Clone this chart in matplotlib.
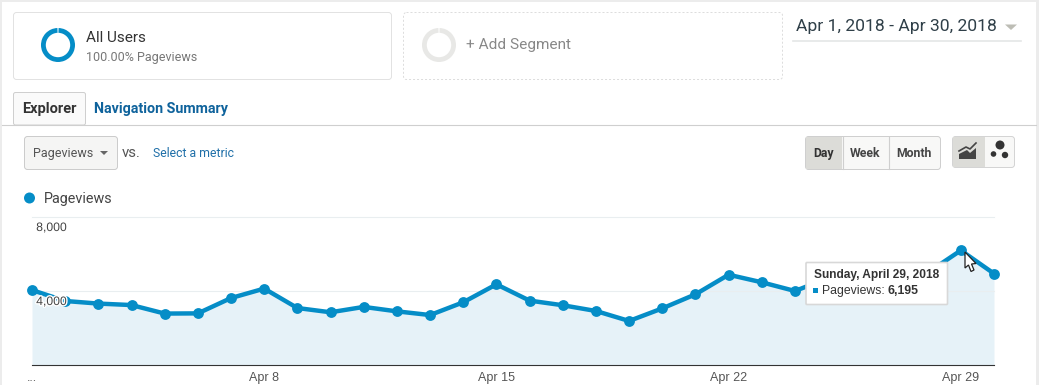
import matplotlib
matplotlib.use("Agg")
import matplotlib.pyplot as plt
from matplotlib.patches import FancyBboxPatch, Rectangle, Circle, Wedge, Polygon
from matplotlib.transforms import ScaledTranslation
import matplotlib.patheffects as pe

W, H = 1039, 385
BLUE = "#058dc7"

days = list(range(1, 31))
# pageviews per day, Apr 25-28 sit behind the tooltip so those are estimates
pageviews = [4050, 3460, 3320, 3240, 2780, 2790, 3620, 4130, 3080, 2850,
             3140, 2900, 2700, 3390, 4360, 3480, 3230, 2920, 2380, 3060,
             3820, 4880, 4470, 4000, 4700, 4900, 4700, 4990, 6195, 4940]
y_ticks = [0, 4000, 8000]
y_labels = ["", "4,000", "8,000"]
x_ticks = [1, 8, 15, 22, 29]
x_labels = ["...", "Apr 8", "Apr 15", "Apr 22", "Apr 29"]

fig = plt.figure(figsize=(W / 100, H / 100), dpi=100, facecolor="white")

# chart area, pixel box 32..994 x 217..365
ax = fig.add_axes([32 / W, 1 - 365 / H, (994 - 32) / W, (365 - 217) / H], zorder=2)
ax.patch.set_alpha(0)
ax.set_xlim(1, 30)
ax.set_ylim(0, 8000)
ax.fill_between(days, pageviews, color="#e6f2f8", lw=0, zorder=1)
ax.plot(days, pageviews, color=BLUE, lw=3.2, marker="o", ms=7.8, mew=0,
        clip_on=False, zorder=3)
for s in ["top", "left", "right"]:
    ax.spines[s].set_visible(False)
ax.spines["bottom"].set_color("#333333")
ax.spines["bottom"].set_linewidth(0.8)
ax.set_yticks(y_ticks)
ax.set_yticklabels(y_labels)
# gridlines by hand, the y axis itself sits above the line for its labels
for v in y_ticks[1:]:
    ax.axhline(v, color="#e9eef0", lw=0.8, zorder=2, clip_on=False)
ax.tick_params(axis="y", length=0, pad=-3)
ax.yaxis.set_zorder(6)
# y labels hang just under their gridlines, over the line
drop = ScaledTranslation(0, -5 / 100, fig.dpi_scale_trans)
for t in ax.get_yticklabels():
    t.set_ha("left")
    t.set_va("top")
    t.set_family("Liberation Sans")
    t.set_fontsize(8.8)
    t.set_color("#444444")
    t.set_transform(t.get_transform() + drop)
    t.set_path_effects([pe.withStroke(linewidth=2, foreground="white")])
ax.set_xticks(x_ticks)
ax.set_xticklabels(x_labels, family="Liberation Sans", fontsize=9, color="#555555")
ax.tick_params(axis="x", length=0, pad=5)

# page furniture drawn in pixel coordinates
ui = fig.add_axes([0, 0, 1, 1], zorder=3)
ui.set_xlim(0, W)
ui.set_ylim(H, 0)
ui.axis("off")
ui.patch.set_alpha(0)


def box(x0, y0, x1, y1, fc="white", ec="#dcdcdc", r=3, ls="-", lw=0.72, z=1):
    p = FancyBboxPatch((x0, y0), x1 - x0, y1 - y0, boxstyle="round,pad=0,rounding_size=%d" % r,
                       fc=fc, ec=ec, ls=ls, lw=lw, zorder=z)
    ui.add_patch(p)


def txt(x, y, s, size, color="#333333", weight="normal", ha="left", family="Roboto", z=5):
    ui.text(x, y, s, fontsize=size, color=color, weight=weight, ha=ha, va="center",
            family=family, zorder=z)


# outer strips
ui.add_patch(Rectangle((0, 0), W, 1.5, fc="#ececec", lw=0))
ui.add_patch(Rectangle((0, 0), 1.5, H, fc="#ececec", lw=0))
ui.add_patch(Rectangle((W - 3, 0), 3, H, fc="#ececec", lw=0))

# segment cards
box(13.5, 12.5, 391.5, 79.5, ec="#e2e2e2")
ui.add_patch(Wedge((58, 45), 17, -88, 268, width=4.8, fc=BLUE, lw=0))
txt(86.5, 38.5, "All Users", 11, "#333333")
txt(86.5, 57, "100.00% Pageviews", 9, "#777777")
box(403.5, 12.5, 782.5, 79.5, ec="#dddddd", ls=(0, (2, 2)))
ui.add_patch(Wedge((439, 45), 17, -88, 268, width=4.8, fc="#e8e8e6", lw=0))
txt(466.5, 44.5, "+ Add Segment", 11.1, "#888888")

# date range
txt(796.5, 27, "Apr 1, 2018 - Apr 30, 2018", 12.6, "#2f3f48")
ui.add_patch(Polygon([(1005, 24.5), (1017, 24.5), (1011, 30)], fc="#bdbdb5", lw=0))
ui.plot([793, 1021], [41, 41], color="#e4e6e6", lw=1.2)

# tabs
ui.plot([2, W - 3], [124.5, 124.5], color="#cfcfcf", lw=0.8)
box(13.5, 92.5, 85.5, 125, fc="#fafafa", ec="#cfcfcf", r=2, z=2)
txt(22.5, 108.5, "Explorer", 10.5, "#333333", "bold")
txt(94.5, 108.5, "Navigation Summary", 10.3, "#0f639c", "bold")

# metric selector
box(24.5, 136.5, 117.5, 169.5, fc="#f5f5f4", ec="#cccccc")
txt(32.5, 153, "Pageviews", 9, "#555555")
ui.add_patch(Polygon([(100, 151), (108, 151), (104, 155)], fc="#666666", lw=0))
txt(122, 153, "vs.", 10.8, "#555555")
txt(153, 153.5, "Select a metric", 8.8, "#1f6fa8")

# day / week / month
box(805.5, 136.5, 940.5, 169.5, fc="#f8f8f7", ec="#cfcfcf")
ui.add_patch(Rectangle((806, 137), 36, 32, fc="#dcdcd8", lw=0, zorder=2))
ui.plot([842.5, 842.5], [137, 169], color="#cfcfcf", lw=0.8, zorder=3)
ui.plot([888.5, 888.5], [137, 169], color="#cfcfcf", lw=0.8, zorder=3)
txt(824, 153.5, "Day", 8.8, "#333333", "bold", "center")
txt(865.5, 153.5, "Week", 8.8, "#444444", "bold", "center")
txt(914, 153.5, "Month", 8.8, "#444444", "bold", "center")

# chart type toggle
box(952.5, 136.5, 1014.5, 167.5, fc="#f8f8f7", ec="#d4d4d4")
ui.add_patch(Rectangle((953, 137), 31.5, 30, fc="#dcdcd8", lw=0, zorder=2))
ui.add_patch(Polygon([(959, 154), (967, 150), (970, 153), (976, 148), (976, 159), (959, 159)],
                     fc="#444444", lw=0, zorder=3))
ui.plot([959, 966, 970, 976], [151, 147, 149, 143], color="#444444", lw=1.2, zorder=3)
ui.add_patch(Circle((1000, 145), 4.5, fc="#333333", lw=0, zorder=3))
ui.add_patch(Circle((993.5, 154), 2.8, fc="#333333", lw=0, zorder=3))
ui.add_patch(Circle((1005, 155), 3.2, fc="#333333", lw=0, zorder=3))

# legend
ui.add_patch(Circle((29.5, 198), 5.5, fc=BLUE, lw=0))
txt(44, 198.5, "Pageviews", 10.4, "#444444")

# tooltip
box(806, 262.5, 947.5, 304.5, fc="white", ec="#d8d8d8", r=1, lw=1.2, z=6)
txt(813.5, 275, "Sunday, April 29, 2018", 8.6, "#333333", "bold", family="Liberation Sans", z=7)
ui.add_patch(Rectangle((812.5, 288), 5, 5, fc=BLUE, lw=0, zorder=7))
txt(822, 291, "Pageviews: ", 8.8, "#333333", family="Liberation Sans", z=7)
txt(887.5, 291, "6,195", 8.8, "#333333", "bold", family="Liberation Sans", z=7)

# mouse cursor
ui.add_patch(Polygon([(965, 252), (965, 268), (968.5, 265), (971, 271.5), (974, 270), (971.5, 264), (976, 263.5)],
                     fc="white", ec="#222222", lw=0.9, zorder=8))

fig.savefig("out.png", dpi=100)
